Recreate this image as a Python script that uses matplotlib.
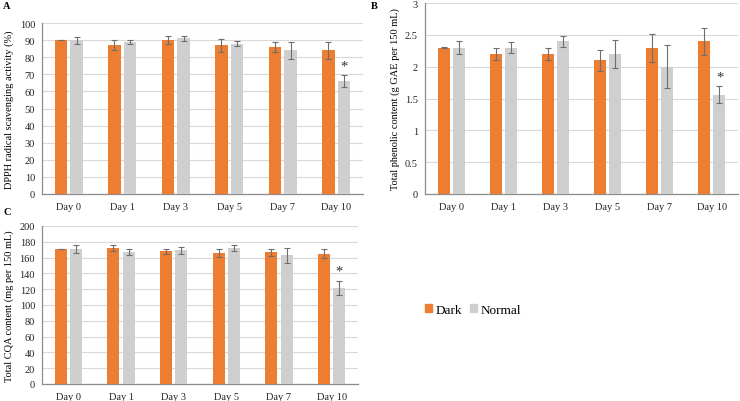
import matplotlib
matplotlib.use("Agg")
import matplotlib.pyplot as plt
import numpy as np
from matplotlib.patches import Patch

plt.rcParams['font.family'] = ['Liberation Serif', 'DejaVu Serif']

days = ["Day 0", "Day 1", "Day 3", "Day 5", "Day 7", "Day 10"]

dpph_dark = [90, 87, 90, 87, 86, 84]
dpph_dark_err = [0.2, 3, 2.5, 3.7, 3, 5]
dpph_normal = [90, 89, 91, 88, 84, 66]
dpph_normal_err = [2, 1.3, 1.4, 1.5, 5, 3.3]

tpc_dark = [2.3, 2.2, 2.2, 2.1, 2.3, 2.4]
tpc_dark_err = [0.005, 0.1, 0.1, 0.165, 0.22, 0.21]
tpc_normal = [2.3, 2.3, 2.4, 2.2, 2.0, 1.56]
tpc_normal_err = [0.1, 0.09, 0.085, 0.22, 0.335, 0.13]

cqa_dark = [171, 172, 168, 166, 167, 165]
cqa_dark_err = [0.5, 4, 3, 5, 4.5, 6]
cqa_normal = [171, 167, 169, 172, 163, 122]
cqa_normal_err = [5, 4, 5, 4, 9.5, 9]

ORANGE = "#ED7D31"
GRAY = "#CFCFCF"
ERR = "#6E6E6E"

fig = plt.figure(figsize=(7.4, 4.02), dpi=100)

def panel(rect, dark, dark_err, normal, normal_err, ylim, step, ylabel, letter, letter_pos, fmt):
    ax = fig.add_axes(rect)
    x = np.arange(len(days))
    w = 0.23
    off = 0.145
    ek = dict(ecolor=ERR, elinewidth=0.8, capsize=2, capthick=0.8)
    ax.bar(x - off, dark, w, color=ORANGE, yerr=dark_err, error_kw=ek, zorder=3)
    ax.bar(x + off, normal, w, color=GRAY, yerr=normal_err, error_kw=ek, zorder=3)
    ax.set_xlim(-0.5, len(days) - 0.5)
    ax.set_ylim(0, ylim)
    ticks = np.arange(0, ylim + step / 2, step)
    ax.set_yticks(ticks)
    ax.set_yticklabels([fmt(t) for t in ticks])
    ax.set_xticks(x)
    ax.set_xticklabels(days)
    ax.tick_params(axis='both', length=0, labelsize=7.5, colors="#222222")
    ax.tick_params(axis='x', pad=6)
    ax.tick_params(axis='y', pad=5)
    ax.grid(axis='y', color="#D9D9D9", linewidth=0.8, zorder=0)
    for s in ['top', 'right']:
        ax.spines[s].set_visible(False)
    for s in ['left', 'bottom']:
        ax.spines[s].set_color("#8C8C8C")
        ax.spines[s].set_linewidth(0.9)
    ax.set_ylabel(ylabel, fontsize=7.5, labelpad=4)
    i = len(days) - 1
    ax.annotate("*", xy=(x[i] + off, normal[i] + normal_err[i]), xytext=(0, 2),
                textcoords="offset points", ha="center", va="bottom", fontsize=10.5, color="#333333")
    fig.text(letter_pos[0], letter_pos[1], letter, fontsize=7.5, fontweight='bold', ha='left', va='top')
    return ax

W, H = 740, 402
def rect(l, t, r, b):
    return [l / W, 1 - b / H, (r - l) / W, (b - t) / H]

fmt_int = lambda t: f"{int(round(t))}"
fmt_tpc = lambda t: f"{t:g}"

panel(rect(42, 24, 363, 195), dpph_dark, dpph_dark_err, dpph_normal, dpph_normal_err,
      100, 10, "DPPH radical scavenging activity (%)", "A", (3 / W, 1 - 2 / H), fmt_int)
panel(rect(425, 4, 738, 195), tpc_dark, tpc_dark_err, tpc_normal, tpc_normal_err,
      3, 0.5, "Total phenolic content (g GAE per 150 mL)", "B", (371 / W, 1 - 2 / H), fmt_tpc)
panel(rect(42, 227, 358, 385), cqa_dark, cqa_dark_err, cqa_normal, cqa_normal_err,
      200, 20, "Total CQA content (mg per 150 mL)", "C", (3 / W, 1 - 208 / H), fmt_int)

handles = [Patch(color=ORANGE, label="Dark"), Patch(color=GRAY, label="Normal")]
fig.legend(handles=handles, loc="center left", bbox_to_anchor=(413 / W, 1 - 311 / H),
           ncol=2, frameon=False, fontsize=9.5, handlelength=0.55, handleheight=0.55,
           handletextpad=0.3, columnspacing=0.55)

fig.savefig("out.png", dpi=100)
